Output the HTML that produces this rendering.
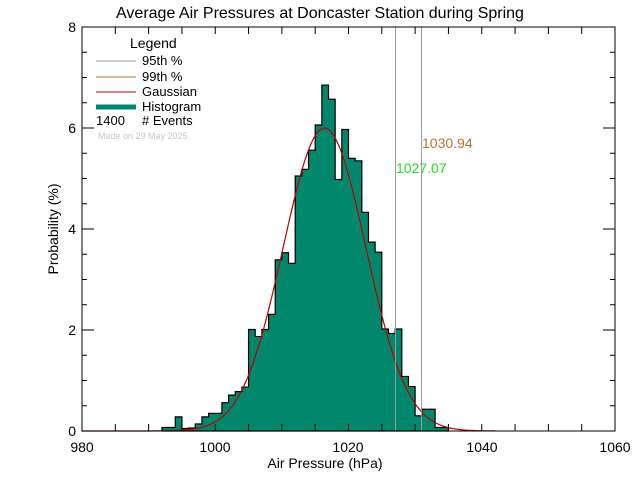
<!DOCTYPE html>
<html><head><style>body{margin:0;background:#fff}svg{display:block}text{font-family:"Liberation Sans",sans-serif}</style></head><body>
<svg width="640" height="480" xmlns="http://www.w3.org/2000/svg">
<rect width="640" height="480" fill="#fff"/>
<path id="bars" fill="#00876c" stroke="#000" stroke-width="1.2"/>
<path id="gauss" fill="none" stroke="#c00000" stroke-width="1.2"/>
<line x1="395.5" y1="27" x2="395.5" y2="431" stroke="#9c9c9c" stroke-width="1"/>
<line x1="421.5" y1="27" x2="421.5" y2="431" stroke="#9c9c9c" stroke-width="1"/>
<text x="396" y="173" font-size="14" fill="#22dd22">1027.07</text>
<text x="422" y="148" font-size="14" fill="#b87333">1030.94</text>
<rect x="82" y="27" width="533" height="404" fill="none" stroke="#000" stroke-width="1"/>
<path id="ticks" fill="none" stroke="#000" stroke-width="1"/>
<g font-size="14" fill="#000" text-anchor="middle">
<text x="82" y="452">980</text><text x="215" y="452">1000</text><text x="348" y="452">1020</text><text x="482" y="452">1040</text><text x="615" y="452">1060</text>
<text x="325" y="468">Air Pressure (hPa)</text>
<text x="320" y="18" font-size="16">Average Air Pressures at Doncaster Station during Spring</text>
</g>
<g font-size="14" fill="#000" text-anchor="end">
<text x="76" y="436">0</text><text x="76" y="335">2</text><text x="76" y="234">4</text><text x="76" y="133">6</text><text x="76" y="32">8</text>
</g>
<text transform="translate(58,229) rotate(-90)" font-size="14" text-anchor="middle">Probability (%)</text>
<g font-size="13" fill="#000">
<text x="130" y="48" font-size="14">Legend</text>
<line x1="96" y1="61" x2="136" y2="61" stroke="#9c9c9c"/><text x="142" y="65">95th %</text>
<line x1="96" y1="77" x2="136" y2="77" stroke="#b87333"/><text x="142" y="81">99th %</text>
<line x1="96" y1="92" x2="136" y2="92" stroke="#c00000"/><text x="142" y="96">Gaussian</text>
<line x1="96" y1="107" x2="136" y2="107" stroke="#00876c" stroke-width="5"/><text x="142" y="111">Histogram</text>
<text x="96" y="125">1400</text><text x="142" y="125"># Events</text>
<text x="98" y="139" font-size="9" fill="#c8c8c8">Made on 29 May 2025</text>
</g>
<script>
var X=function(p){return 82+(p-980)*6.6625},Y=function(v){return 431-v*50.5};
var h={992:.07,993:.07,994:.28,995:.05,996:.06,997:.14,998:.28,999:.35,1000:.35,1001:.56,1002:.71,1003:.78,1004:.87,1005:2.01,1006:1.87,1007:2.01,1008:2.31,1009:3.39,1010:3.53,1011:3.32,1012:5.05,1013:5.18,1014:5.56,1015:6.06,1016:6.85,1017:6.57,1018:4.98,1019:5.97,1020:5.4,1021:5.35,1022:4.33,1023:3.74,1024:3.54,1025:2.02,1026:1.93,1027:2.02,1028:1.08,1029:.88,1030:.3,1031:.43,1032:.43,1033:.07,1034:.07};
var d="M"+X(992)+" 431";for(var p=992;p<=1034;p++){d+=" L"+X(p)+" "+Y(h[p])+" L"+X(p+1)+" "+Y(h[p]);}d+=" L"+X(1035)+" 431 Z";
document.getElementById('bars').setAttribute('d',d);
var g="";for(var p=980;p<=1042;p+=0.25){var v=6.0*Math.exp(-Math.pow(p-1016.4,2)/(2*6.2*6.2));g+=(g?" L":"M")+X(p).toFixed(1)+" "+Y(v).toFixed(1);}
document.getElementById('gauss').setAttribute('d',g);
var t="";for(var p=985;p<=1055;p+=5){var l=7;t+=" M"+X(p)+" 431 L"+X(p)+" "+(431-l)+" M"+X(p)+" 27 L"+X(p)+" "+(27+l);}
for(var v=0.5;v<8;v+=0.5){var l=(v%2==0)?12:5;t+=" M82 "+Y(v)+" L"+(82+l)+" "+Y(v)+" M615 "+Y(v)+" L"+(615-l)+" "+Y(v);}
document.getElementById('ticks').setAttribute('d',t);
</script>
</svg>
</body></html>
